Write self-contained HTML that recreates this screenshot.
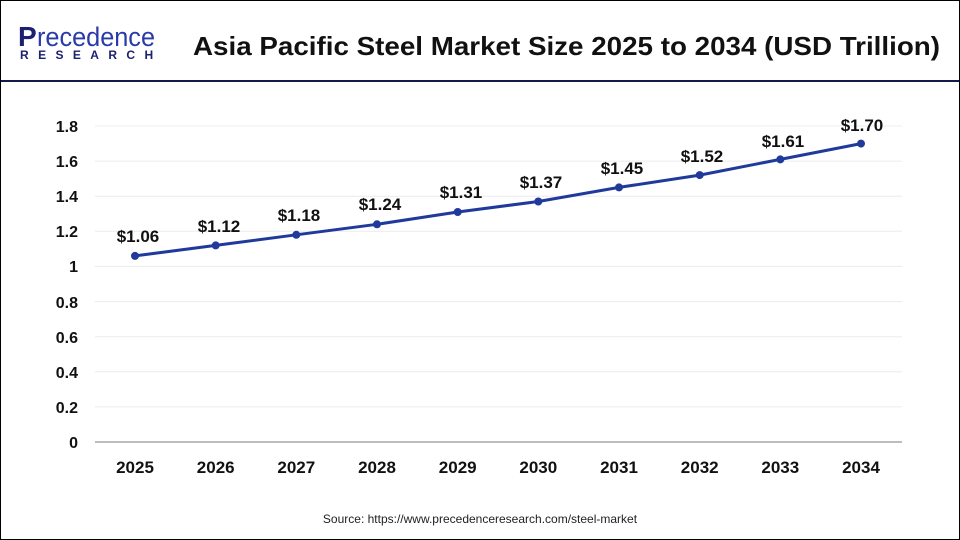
<!DOCTYPE html>
<html><head><meta charset="utf-8"><style>
html,body{margin:0;padding:0;background:#fff}
svg{display:block}
text{font-family:"Liberation Sans",Arial,sans-serif}
</style></head><body>
<svg width="960" height="540" viewBox="0 0 960 540" xmlns="http://www.w3.org/2000/svg">
<rect x="0.5" y="0.5" width="959" height="539" fill="#fff" stroke="#000" stroke-width="1"/>
<line x1="1" y1="81" x2="959" y2="81" stroke="#141a4a" stroke-width="2"/>
<!-- logo -->
<text x="18" y="46" font-size="28" fill="#1b2170" font-weight="bold">P</text>
<text x="37" y="46" font-size="27" fill="#2a3aa8" textLength="118" lengthAdjust="spacingAndGlyphs">recedence</text>
<text x="20" y="59" font-size="12" fill="#1b2170" font-weight="bold" letter-spacing="9.4">RESEARCH</text>
<text x="193" y="55" font-size="26" font-weight="bold" fill="#111" textLength="747" lengthAdjust="spacingAndGlyphs">Asia Pacific Steel Market Size 2025 to 2034 (USD Trillion)</text>
<!-- grid -->
<g stroke="#ececec" stroke-width="1">
<line x1="95" x2="902" y1="126" y2="126"/><line x1="95" x2="902" y1="161.1" y2="161.1"/>
<line x1="95" x2="902" y1="196.2" y2="196.2"/><line x1="95" x2="902" y1="231.3" y2="231.3"/>
<line x1="95" x2="902" y1="266.4" y2="266.4"/><line x1="95" x2="902" y1="301.6" y2="301.6"/>
<line x1="95" x2="902" y1="336.7" y2="336.7"/><line x1="95" x2="902" y1="371.8" y2="371.8"/>
<line x1="95" x2="902" y1="406.9" y2="406.9"/>
</g>
<line x1="95" x2="902" y1="442" y2="442" stroke="#bdbdbd" stroke-width="2"/>
<g font-size="16" font-weight="bold" fill="#111" text-anchor="end">
<text x="78" y="132">1.8</text><text x="78" y="167">1.6</text><text x="78" y="202">1.4</text>
<text x="78" y="237">1.2</text><text x="78" y="272">1</text><text x="78" y="308">0.8</text>
<text x="78" y="343">0.6</text><text x="78" y="378">0.4</text><text x="78" y="413">0.2</text>
<text x="78" y="448">0</text>
</g>
<g font-size="17" font-weight="bold" fill="#111" text-anchor="middle">
<text x="135" y="473">2025</text><text x="215.7" y="473">2026</text><text x="296.3" y="473">2027</text>
<text x="377" y="473">2028</text><text x="457.7" y="473">2029</text><text x="538.3" y="473">2030</text>
<text x="619" y="473">2031</text><text x="699.7" y="473">2032</text><text x="780.3" y="473">2033</text>
<text x="861" y="473">2034</text>
</g>
<polyline fill="none" stroke="#1f3a9a" stroke-width="3" points="135,255.9 215.7,245.4 296.3,234.8 377,224.3 457.7,212 538.3,201.5 619,187.4 699.7,175.1 780.3,159.4 861,143.6"/>
<g fill="#1f3a9a">
<circle cx="135" cy="255.9" r="4"/><circle cx="215.7" cy="245.4" r="4"/><circle cx="296.3" cy="234.8" r="4"/>
<circle cx="377" cy="224.3" r="4"/><circle cx="457.7" cy="212" r="4"/><circle cx="538.3" cy="201.5" r="4"/>
<circle cx="619" cy="187.4" r="4"/><circle cx="699.7" cy="175.1" r="4"/><circle cx="780.3" cy="159.4" r="4"/>
<circle cx="861" cy="143.6" r="4"/>
</g>
<g font-size="17" font-weight="bold" fill="#111" text-anchor="middle">
<text x="138" y="242">$1.06</text><text x="219" y="232">$1.12</text><text x="299" y="221">$1.18</text>
<text x="380" y="210">$1.24</text><text x="461" y="198">$1.31</text><text x="541" y="188">$1.37</text>
<text x="622" y="174">$1.45</text><text x="702" y="162">$1.52</text><text x="783" y="147">$1.61</text>
<text x="862" y="131">$1.70</text>
</g>
<text x="480" y="523" font-size="12" fill="#222" text-anchor="middle">Source: https://www.precedenceresearch.com/steel-market</text>
</svg>
</body></html>
